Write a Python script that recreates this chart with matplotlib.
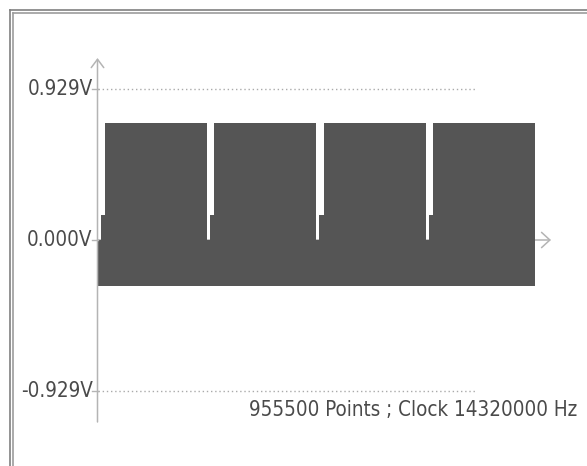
import matplotlib
matplotlib.use("Agg")
import matplotlib.pyplot as plt
import numpy as np

# Capture parameters
n_points = 955500
clock_hz = 14320000

# Start index of each of the four recorded lines
line_starts = [0, 238875, 477750, 716625]
sync_len = 7000      # samples held at sync level after each line start
porch_len = 9000     # samples held at porch level after sync

# Signal levels (V)
v_low = -0.282
v_sync = 0.0
v_porch = 0.152
v_high = 0.722

# Reference levels shown on the vertical axis
ref_levels = [0.929, 0.0, -0.929]
ref_labels = ["0.929V", "0.000V", "-0.929V"]

W, H, DPI = 587, 466, 100
fig = plt.figure(figsize=(W / DPI, H / DPI), dpi=DPI)
ax = fig.add_axes([0, 0, 1, 1])
ax.set_axis_off()

# pixel layout of the plotting area
x0_px, x1_px = 97.5, 535.0           # sample 0 .. n_points
y0_px, yref_px = 240.0, 150.75       # 0 V row, pixels per 0.929 V
pts_per_px = n_points / (x1_px - x0_px)
v_per_px = ref_levels[0] / yref_px
ax.set_xlim(-x0_px * pts_per_px, (W - x0_px) * pts_per_px)
ax.set_ylim(-(H - y0_px) * v_per_px, y0_px * v_per_px)

# upper envelope: sync -> porch -> active level for every line
xs, ys = [], []
for s in line_starts:
    xs += [s, s + sync_len, s + sync_len + porch_len]
    ys += [v_sync, v_porch, v_high]
xs.append(n_points)
ys.append(v_high)
xs = np.array(xs, dtype=float)
ys = np.array(ys)
ax.fill_between(xs, np.full_like(ys, v_low), ys, step="post",
                color="#555555", linewidth=0, zorder=2)

axis_col = "#b4b4b4"
# vertical axis with arrow
y_ax_lo = -(422 - y0_px) * v_per_px
y_ax_hi = (y0_px - 58) * v_per_px
ax.annotate("", xy=(0, y_ax_hi), xytext=(0, y_ax_lo),
            arrowprops=dict(arrowstyle="->,head_length=0.6,head_width=0.45",
                            color=axis_col, lw=1.1, shrinkA=0, shrinkB=0),
            zorder=3)
# horizontal axis with arrow
x_ax_hi = (551 - x0_px) * pts_per_px
ax.annotate("", xy=(x_ax_hi, 0), xytext=(0, 0),
            arrowprops=dict(arrowstyle="->,head_length=0.6,head_width=0.55",
                            color=axis_col, lw=1.1, shrinkA=0, shrinkB=0),
            zorder=1)

# dotted reference lines
grid_end = (477 - x0_px) * pts_per_px
for v in ref_levels:
    if v != 0:
        ax.plot([0, grid_end], [v, v], color="#aaaaaa", lw=1,
                linestyle=(0, (1, 2)), zorder=1)

label_font = dict(family="DejaVu Sans", stretch="condensed",
                  size=14.8, color="#4a4a4a")
for v, lab in zip(ref_levels, ref_labels):
    ax.plot([-6 * pts_per_px, 0], [v, v], color=axis_col, lw=1, zorder=3)
    ax.annotate(lab, xy=(0, v), xytext=(-5, 0), textcoords="offset pixels",
                ha="right", va="center", **label_font)

fig.text(249 / W, 1 - 410 / H,
         f"{n_points} Points ; Clock {clock_hz} Hz",
         ha="left", va="center", **label_font)

# double frame along the top and left edges
for off, col in [(9.5, "#808080"), (12.5, "#9c9c9c")]:
    fig.add_artist(plt.Line2D([off / W, 1], [1 - off / H, 1 - off / H],
                              color=col, lw=1.2, transform=fig.transFigure))
    fig.add_artist(plt.Line2D([off / W, off / W], [0, 1 - off / H],
                              color=col, lw=1.2, transform=fig.transFigure))

fig.savefig("out.png", dpi=DPI)
